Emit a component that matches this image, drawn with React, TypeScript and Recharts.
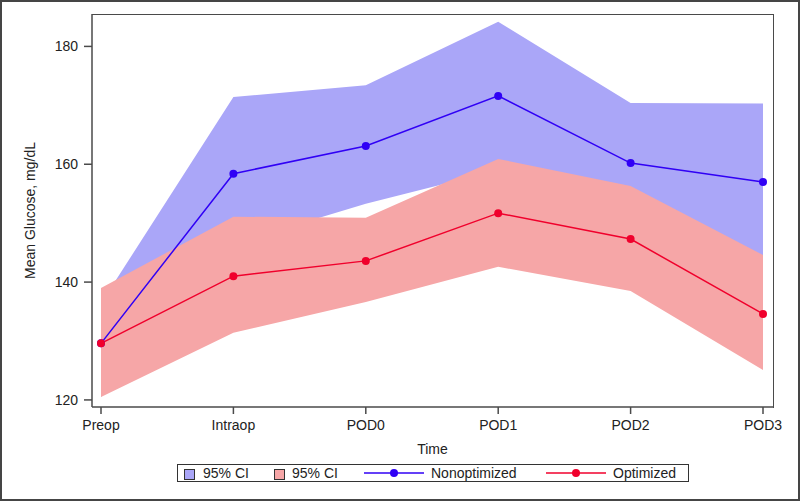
import React from "react"
import { ComposedChart, Area, Line, XAxis, YAxis, Label } from "recharts"

const times = ["Preop", "Intraop", "POD0", "POD1", "POD2", "POD3"]
const nonoptMean = [129.6, 158.4, 163.1, 171.6, 160.2, 157.0]
const nonoptLow = [120.5, 146.5, 153.3, 159.0, 152.0, 144.5]
const nonoptHigh = [136.4, 171.4, 173.4, 184.2, 170.4, 170.3]
const optMean = [129.6, 141.0, 143.6, 151.7, 147.3, 134.6]
const optLow = [120.5, 131.4, 136.6, 142.6, 138.5, 125.1]
const optHigh = [139.0, 151.1, 150.9, 160.9, 156.3, 144.6]
const yTicks = [120, 140, 160, 180]

const BLUE_BAND = "#aaa6f8"
const RED_BAND = "#f6a6a7"
const BLUE_LINE = "#3000f5"
const RED_LINE = "#f0002c"
const FRAME = "#4a4a4a"
const FONT = "'Liberation Sans', Arial, sans-serif"

const data = times.map((t, i) => ({
  time: t,
  nonoptCI: [nonoptLow[i], nonoptHigh[i]],
  optCI: [optLow[i], optHigh[i]],
  nonopt: nonoptMean[i],
  opt: optMean[i],
}))

const tickStyle = { fontSize: 14, fill: "#222", fontFamily: FONT }

function ChartLegend() {
  const txt = {
    position: "absolute" as const,
    top: 465,
    fontSize: 14,
    lineHeight: "17px",
    color: "#222",
    fontFamily: FONT,
    whiteSpace: "nowrap" as const,
  }
  const swatch = (left: number, color: string) => (
    <div style={{ position: "absolute", left, top: 469, width: 9, height: 9, background: color, border: "1px solid #333" }} />
  )
  const lineKey = (left: number, color: string) => (
    <svg style={{ position: "absolute", left, top: 467 }} width={62} height={12}>
      <line x1={0} y1={6} x2={60} y2={6} stroke={color} strokeWidth={1.5} />
      <circle cx={30} cy={6} r={4} fill={color} />
    </svg>
  )
  return (
    <div style={{ position: "absolute", left: 0, top: 0 }}>
      <div style={{ position: "absolute", left: 177, top: 464, width: 510, height: 16, border: "1.5px solid #333" }} />
      {swatch(184, BLUE_BAND)}
      <div style={{ ...txt, left: 203 }}>95% CI</div>
      {swatch(274, RED_BAND)}
      <div style={{ ...txt, left: 292 }}>95% CI</div>
      {lineKey(364, BLUE_LINE)}
      <div style={{ ...txt, left: 431 }}>Nonoptimized</div>
      {lineKey(546, RED_LINE)}
      <div style={{ ...txt, left: 613 }}>Optimized</div>
    </div>
  )
}

export default function App() {
  return (
    <div style={{ position: "absolute", left: 0, top: 0, width: 800, height: 501, background: "#fff" }}>
      <ComposedChart width={800} height={501} data={data} margin={{ top: 14, right: 27, left: 0, bottom: 0 }}>
        <XAxis
          dataKey="time"
          scale="point"
          padding={{ left: 9, right: 10 }}
          height={94}
          tick={tickStyle}
          tickSize={7}
          tickMargin={6}
          stroke={FRAME}
          strokeWidth={1.5}
          interval={0}
        >
          <Label
            content={(props: any) => {
              const vb = props.viewBox
              return (
                <text x={vb.x + vb.width / 2} y={vb.y + 47} textAnchor="middle" style={tickStyle}>
                  Time
                </text>
              )
            }}
          />
        </XAxis>
        <YAxis
          domain={[118.8, 185.5]}
          ticks={yTicks}
          width={92}
          tick={tickStyle}
          tickSize={8}
          tickMargin={6}
          stroke={FRAME}
          strokeWidth={1.5}
          allowDataOverflow
        >
          <Label
            content={(props: any) => {
              const vb = props.viewBox
              const cx = 30
              const cy = vb.y + vb.height / 2
              return (
                <text x={cx} y={cy} textAnchor="middle" dominantBaseline="central" transform={`rotate(-90, ${cx}, ${cy})`} style={tickStyle}>
                  Mean Glucose, mg/dL
                </text>
              )
            }}
          />
        </YAxis>
        <Area type="linear" dataKey="nonoptCI" stroke="none" fill={BLUE_BAND} fillOpacity={1} isAnimationActive={false} />
        <Area type="linear" dataKey="optCI" stroke="none" fill={RED_BAND} fillOpacity={1} isAnimationActive={false} />
        <Line type="linear" dataKey="nonopt" stroke={BLUE_LINE} strokeWidth={1.5} dot={{ r: 4, fill: BLUE_LINE, stroke: BLUE_LINE, strokeWidth: 0 }} isAnimationActive={false} />
        <Line type="linear" dataKey="opt" stroke={RED_LINE} strokeWidth={1.5} dot={{ r: 4, fill: RED_LINE, stroke: RED_LINE, strokeWidth: 0 }} isAnimationActive={false} />
      </ComposedChart>
      {/* plot frame (top and right edges) */}
      <div style={{ position: "absolute", left: 91.5, top: 13.5, width: 681, height: 393, borderTop: `1.5px solid ${FRAME}`, borderRight: `1.5px solid ${FRAME}`, pointerEvents: "none" }} />
      <ChartLegend />
      <div style={{ position: "absolute", left: 0, top: 0, width: 800, height: 501, boxSizing: "border-box", border: "2px solid #454545", pointerEvents: "none" }} />
    </div>
  )
}
